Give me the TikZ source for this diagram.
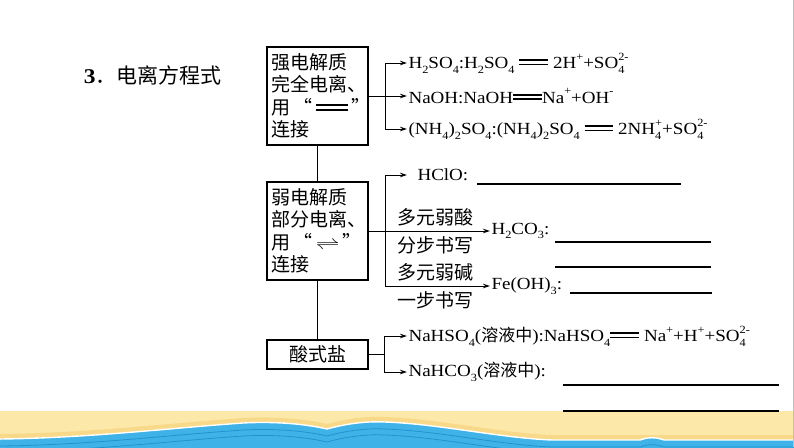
\documentclass[tikz,border=0pt]{standalone}
\usepackage{fontspec}
\setmainfont{Liberation Serif}[FakeStretch=1.12]
\newfontfamily\cjk{Noto Sans CJK SC}
\usetikzlibrary{arrows.meta}

\definecolor{sand}{HTML}{FCE9AA}
\definecolor{sanddark}{HTML}{F8D98A}
\definecolor{sea}{HTML}{3FB2E8}
\definecolor{seadark}{HTML}{2393CF}

\newcommand{\sbs}[1]{\raisebox{-0.28em}{\fontsize{11}{11}\selectfont #1}}
\newcommand{\sps}[1]{\raisebox{0.5em}{\fontsize{11}{11}\selectfont #1}}
\newcommand{\sbsp}[2]{\rlap{\sbs{#1}}\sps{#2}}
\newcommand{\eqsign}{\mbox{\rule[0.2em]{1.7em}{0.09em}\llap{\rule[0.45em]{1.7em}{0.09em}}}}

\tikzset{
    mychartstyle/.style={
        x=1pt, y=-1pt,
        >={Stealth[length=7pt,width=4.5pt]},
        line width=1pt,
    },
    classbox/.style={
        draw, line width=1.1pt,
        align=left, text width=92pt,
        inner xsep=4.5pt,
        minimum height=98pt,
        font=\fontsize{19}{22.5}\selectfont\cjk,
    },
    eqtext/.style={
        anchor=west, inner sep=1pt,
        font=\fontsize{17}{20}\selectfont,
    },
    steptext/.style={
        inner sep=0pt,
        font=\fontsize{19}{22}\selectfont\cjk,
    },
    blank/.style={line width=1.2pt},
}

\begin{document}
\begin{tikzpicture}[mychartstyle]
    \useasboundingbox (0,0) rectangle (794,447);
    % sand and sea at the bottom
    \fill[sand] (0,411) rectangle (794,447);
    \fill[sanddark] (0,434) .. controls (90,433) and (170,423) .. (243,418)
        .. controls (280,416) and (310,420) .. (327,424)
        .. controls (345,419) and (365,416) .. (385,417)
        .. controls (440,419) and (500,433) .. (552,435) -- (794,435)
        -- (794,447) -- (0,447) -- cycle;
    \path[fill=sea, draw=white, line width=1.4pt] (0,439) .. controls (90,438) and (170,428) .. (243,423)
        .. controls (280,421) and (310,425) .. (327,429)
        .. controls (345,424) and (365,421) .. (385,422)
        .. controls (440,424) and (500,438) .. (552,440) -- (640,440)
        .. controls (648,437) and (656,437) .. (664,440) -- (800,440)
        -- (800,452) -- (-6,452) -- cycle;
    \foreach \dy in {-7,-13}
        \draw[seadark, line width=0.8pt, yshift=\dy pt] (0,439) .. controls (90,438) and (170,428) .. (243,423)
            .. controls (280,421) and (310,425) .. (327,429)
            .. controls (345,424) and (365,421) .. (385,422)
            .. controls (440,424) and (500,438) .. (552,440) -- (640,440)
            .. controls (648,437) and (656,437) .. (664,440) -- (794,440);
    \draw[black!25, line width=0.8pt] (793.5,0) -- (793.5,447);

    \node (title) at (80,75) [anchor=west, font=\fontsize{21}{24}\selectfont] {\textbf{3}{\cjk ．电离方程式}};

    % the three kinds
    \node (strong) at (317.5,96) [classbox] {强电解质\\完全电离、\\用\,“\,\eqsign\,”\\连接};
    \node (weak) at (317.5,231) [classbox] {弱电解质\\部分电离、\\用\,“\,\scalebox{1.4}[1]{$\rightleftharpoons$}\,”\\连接};
    \node (salt) at (317.5,354.5) [classbox, minimum height=29pt, align=center] {酸式盐};
    \draw (strong) -- (weak);
    \draw (weak) -- (salt);

    % strong electrolytes
    \node (hso) at (407,63) [eqtext] {H\sbs{2}SO\sbs{4}:H\sbs{2}SO\sbs{4} \eqsign{} 2H\sps{+}+SO\sbsp{4}{2-}};
    \node (naoh) at (407,96) [eqtext] {NaOH:NaOH\eqsign Na\sps{+}+OH\sps{-}};
    \node (nhso) at (407,129) [eqtext] {(NH\sbs{4})\sbs{2}SO\sbs{4}:(NH\sbs{4})\sbs{2}SO\sbs{4} \eqsign{} 2NH\sbsp{4}{+}+SO\sbsp{4}{2-}};
    \coordinate (fork1) at (385,96);
    \draw[->] (strong.east) -- (naoh.west);
    \draw[->] (fork1) |- (hso.west);
    \draw[->] (fork1) |- (nhso.west);

    % weak electrolytes
    \node (hclo) at (407,175) [eqtext, inner xsep=10pt] {HClO:};
    \node (hco) at (490,231) [eqtext] {H\sbs{2}CO\sbs{3}:};
    \node (feoh) at (490,286) [eqtext] {Fe(OH)\sbs{3}:};
    \coordinate (fork2) at (385,231);
    \draw[->] (weak.east) -- (hco.west);
    \draw[->] (fork2) |- (hclo.west);
    \draw[->] (fork2) |- (feoh.west);
    \node (acidup) at (435,217) [steptext] {多元弱酸};
    \node (aciddown) at (435,245) [steptext] {分步书写};
    \node (baseup) at (435,272) [steptext] {多元弱碱};
    \node (basedown) at (435,300) [steptext] {一步书写};
    \draw[blank] (477,184) -- (681,184);
    \draw[blank] (555,242) -- (711,242);
    \draw[blank] (555,267) -- (711,267);
    \draw[blank, line width=1.6pt] (570,293) -- (712,293);

    % acid salts
    \node (nahso) at (407,336) [eqtext] {NaHSO\sbs{4}({\cjk 溶液中}):NaHSO\sbs{4}\eqsign{} Na\sps{+}+H\sps{+}+SO\sbsp{4}{2-}};
    \node (nahco) at (407,372) [eqtext] {NaHCO\sbs{3}({\cjk 溶液中}):};
    \coordinate (fork3) at (384,354.5);
    \draw (salt.east) -- (fork3);
    \draw[->] (fork3) |- (nahso.west);
    \draw[->] (fork3) |- (nahco.west);
    \draw[blank] (563,385) -- (779,385);
    \draw[blank] (563,411) -- (779,411);
\end{tikzpicture}
\end{document}
